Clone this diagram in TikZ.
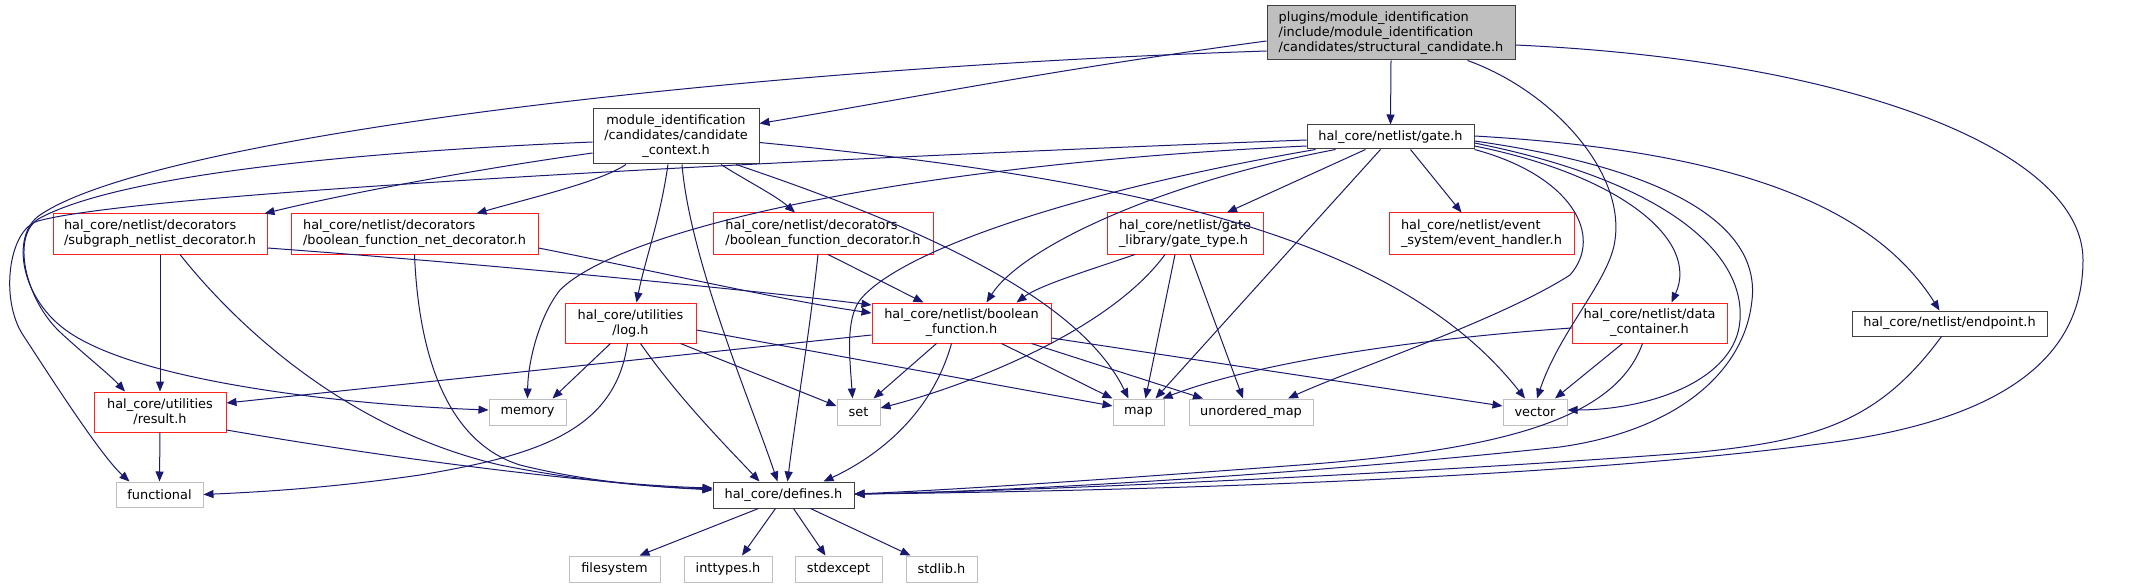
\documentclass[tikz,border=0pt]{standalone}
\usepackage{fontspec}
\setmainfont{DejaVu Sans}
\usetikzlibrary{arrows.meta}
\newcommand\dxfont{\fontsize{12.9}{15}\selectfont}
\definecolor{edgec}{HTML}{191970}
\definecolor{grayb}{HTML}{BFBFBF}
\definecolor{darkb}{HTML}{404040}
\definecolor{redb}{HTML}{FF2020}
\begin{document}
\begin{tikzpicture}[x=1pt,y=-1pt,
  box/.style={draw=darkb, line width=1pt, fill=white, inner sep=0pt, font=\dxfont, text=black, align=center},
  sysbox/.style={box, draw=grayb},
  trunc/.style={box, draw=redb},
  rootbox/.style={box, fill=grayb},
  dep/.style={draw=edgec, line width=1pt, -{Triangle[length=10pt,width=8pt]}}]
\useasboundingbox[fill=white] (0,0) rectangle (2139,588);
% nodes
\node[rootbox, align=left, minimum width=248, minimum height=54] (top) at (1391,33) {plugins/module\_identification\\/include/module\_identification\\/candidates/structural\_candidate.h};
\node[box, minimum width=166, minimum height=55] (cc) at (676,136.5) {module\_identification\\/candidates/candidate\\\_context.h};
\node[box, minimum width=167, minimum height=24] (gate) at (1390.5,137) {hal\_core/netlist/gate.h};
\node[trunc, align=left, minimum width=214, minimum height=40] (subg) at (160,234) {hal\_core/netlist/decorators\\/subgraph\_netlist\_decorator.h};
\node[trunc, align=left, minimum width=247, minimum height=40] (bnd) at (414.5,234) {hal\_core/netlist/decorators\\/boolean\_function\_net\_decorator.h};
\node[trunc, align=left, minimum width=220, minimum height=41] (bfd) at (823,233.5) {hal\_core/netlist/decorators\\/boolean\_function\_decorator.h};
\node[trunc, align=left, minimum width=156, minimum height=41] (gtype) at (1185,233.5) {hal\_core/netlist/gate\\\_library/gate\_type.h};
\node[trunc, align=left, minimum width=185, minimum height=41] (evh) at (1481.5,233.5) {hal\_core/netlist/event\\\_system/event\_handler.h};
\node[trunc, minimum width=131, minimum height=40] (log) at (630.5,323) {hal\_core/utilities\\/log.h};
\node[trunc, minimum width=179, minimum height=40] (bf) at (961.5,323) {hal\_core/netlist/boolean\\\_function.h};
\node[trunc, minimum width=155, minimum height=40] (dc) at (1649.5,323) {hal\_core/netlist/data\\\_container.h};
\node[box, minimum width=195, minimum height=25] (endp) at (1949.5,323.5) {hal\_core/netlist/endpoint.h};
\node[trunc, minimum width=132, minimum height=40] (result) at (160,412) {hal\_core/utilities\\/result.h};
\node[sysbox, minimum width=77, minimum height=26] (memory) at (527.5,412) {memory};
\node[sysbox, minimum width=43, minimum height=26] (set) at (858.5,412) {set};
\node[sysbox, minimum width=51, minimum height=26] (map) at (1138.5,412) {map};
\node[sysbox, minimum width=124, minimum height=26] (umap) at (1251,412) {unordered\_map};
\node[sysbox, minimum width=64, minimum height=26] (vector) at (1535,412) {vector};
\node[sysbox, minimum width=87, minimum height=25] (functional) at (159.5,494.5) {functional};
\node[box, minimum width=141, minimum height=26] (defines) at (783.5,495) {hal\_core/defines.h};
\node[sysbox, minimum width=91, minimum height=26] (filesystem) at (614.5,569) {filesystem};
\node[sysbox, minimum width=88, minimum height=26] (inttypes) at (728,569) {inttypes.h};
\node[sysbox, minimum width=87, minimum height=26] (stdexcept) at (838.5,569) {stdexcept};
\node[sysbox, minimum width=71, minimum height=26] (stdlib) at (941.5,569) {stdlib.h};
% edges from top
\draw[dep] ([yshift=-8]top.west) .. controls (1050,70) and (900,100) .. ([yshift=13]cc.east);
\draw[dep] (top.south) -- (gate.north);
\draw[dep] ([yshift=-18]top.west) .. controls (700,70) and (150,140) .. (40,215) .. controls (10,235) and (20,300) .. (70,333) .. controls (145,383) and (350,405) .. ([yshift=2]memory.west);
\draw[dep] ([xshift=-48]top.south east) .. controls (1550,90) and (1625,170) .. (1615,240) .. controls (1610,280) and (1560,330) .. ([xshift=2]vector.north);
\draw[dep] ([yshift=-12]top.east) .. controls (1850,60) and (2083,150) .. (2083,260) .. controls (2083,360) and (2000,420) .. (1827,443) .. controls (1527,483) and (1050,492) .. ([yshift=1]defines.east);
% edges from candidate_context
\draw[dep] ([yshift=-16.5]cc.west) .. controls (470,170) and (340,195) .. ([xshift=-3]subg.north east);
\draw[dep] ([xshift=-50]cc.south) .. controls (600,182) and (530,198) .. ([xshift=62]bnd.north);
\draw[dep] ([xshift=45]cc.south) .. controls (745,180) and (775,195) .. ([xshift=-28]bfd.north);
\draw[dep] ([xshift=-8]cc.south) .. controls (660,220) and (645,260) .. ([xshift=6]log.north);
\draw[dep] ([xshift=6]cc.south) .. controls (690,260) and (750,400) .. ([xshift=-6]defines.north);
\draw[dep] ([xshift=60]cc.south) .. controls (930,230) and (1080,300) .. ([xshift=-10]map.north);
\draw[dep] ([yshift=-6]cc.east) .. controls (1150,180) and (1400,240) .. ([xshift=-10]vector.north);
\draw[dep] ([yshift=-5.5]cc.west) .. controls (400,150) and (130,170) .. (40,218) .. controls (10,234) and (25,300) .. (61,333) .. controls (86,356) and (110,375) .. ([xshift=-35]result.north);
% edges from gate
\draw[dep] ([xshift=-25]gate.south) -- ([xshift=42]gtype.north);
\draw[dep] ([xshift=20]gate.south) -- ([xshift=-20]evh.north);
\draw[dep] ([yshift=-9]gate.east) .. controls (1620,175) and (1700,240) .. ([xshift=22]dc.north);
\draw[dep] ([yshift=1]gate.east) .. controls (1720,150) and (1870,200) .. ([xshift=-10]endp.north);
\draw[dep] ([yshift=-4]gate.east) .. controls (1680,170) and (1760,230) .. (1752,300) .. controls (1745,370) and (1680,430) .. (1560,447) .. controls (1300,475) and (1000,492) .. ([yshift=1]defines.east);
\draw[dep] ([yshift=-6]gate.east) .. controls (1660,180) and (1745,250) .. (1740,320) .. controls (1736,380) and (1650,410) .. ([yshift=2]vector.east);
\draw[dep] (gate.south east) .. controls (1570,175) and (1605,235) .. (1570,275) .. controls (1500,320) and (1350,370) .. ([xshift=37]umap.north);
\draw[dep] ([xshift=-10]gate.south) -- ([xshift=17]map.north);
\draw[dep] ([yshift=-9]gate.west) .. controls (900,165) and (620,230) .. (560,290) .. controls (540,315) and (528,360) .. (memory.north);
\draw[dep] ([yshift=-3]gate.west) .. controls (900,155) and (150,190) .. (38,221) .. controls (8,230) and (0,300) .. (23,335) .. controls (46,370) and (100,455) .. ([xshift=-30]functional.north);
\draw[dep] ([xshift=-55]gate.south) .. controls (1150,185) and (1020,250) .. ([xshift=25]bf.north);
\draw[dep] ([xshift=-75]gate.south) .. controls (1080,190) and (900,250) .. (860,300) .. controls (845,320) and (850,360) .. ([xshift=-6]set.north);
% subgraph decorator
\draw[dep] (subg.south) -- (result.north);
\draw[dep] ([xshift=20]subg.south) .. controls (240,330) and (350,430) .. (500,465) .. controls (600,485) and (680,488) .. ([yshift=6]defines.west);
\draw[dep] ([yshift=-14]subg.east) .. controls (500,265) and (750,290) .. ([yshift=18]bf.west);
% boolean function net decorator
\draw[dep] ([yshift=-14]bnd.east) .. controls (650,270) and (780,300) .. ([yshift=10]bf.west);
\draw[dep] (bnd.south) .. controls (418,340) and (440,440) .. (520,465) .. controls (600,485) and (680,488) .. ([yshift=5]defines.west);
% boolean function decorator
\draw[dep] ([xshift=5]bfd.south) -- ([xshift=-38]bf.north);
\draw[dep] ([xshift=-5]bfd.south) .. controls (810,330) and (795,420) .. ([xshift=4]defines.north);
% gate type
\draw[dep] ([xshift=-50]gtype.south) .. controls (1090,270) and (1040,285) .. ([xshift=55]bf.north);
\draw[dep] ([xshift=-20]gtype.south) .. controls (1110,330) and (970,385) .. ([yshift=4]set.east);
\draw[dep] ([xshift=-10]gtype.south) -- ([xshift=7]map.north);
\draw[dep] ([xshift=5]gtype.south) -- ([xshift=-8]umap.north);
% log
\draw[dep] ([xshift=-20]log.south) -- ([xshift=25]memory.north);
\draw[dep] ([xshift=-3]log.south) .. controls (615,430) and (540,455) .. (420,475) .. controls (330,488) and (260,492) .. (functional.east);
\draw[dep] ([xshift=10]log.south) .. controls (680,400) and (730,450) .. ([xshift=-24]defines.north);
\draw[dep] ([xshift=50]log.south) -- ([yshift=6]set.west);
\draw[dep] ([yshift=-7]log.east) -- ([yshift=6]map.west);
% boolean function
\draw[dep] ([yshift=-12]bf.west) -- ([yshift=9]result.east);
\draw[dep] ([xshift=-25]bf.south) -- ([xshift=15]set.north);
\draw[dep] ([xshift=-10]bf.south) .. controls (930,420) and (870,460) .. ([xshift=40]defines.north);
\draw[dep] ([xshift=40]bf.south) -- (map.north west);
\draw[dep] ([xshift=70]bf.south) -- ([xshift=-48]umap.north);
\draw[dep] ([yshift=-15]bf.east) -- ([yshift=6]vector.west);
% data container
\draw[dep] ([yshift=-5]dc.west) .. controls (1400,340) and (1250,365) .. ([xshift=24]map.north);
\draw[dep] ([xshift=-27]dc.south) -- ([xshift=20]vector.north);
\draw[dep] ([xshift=-7]dc.south) .. controls (1615,420) and (1500,450) .. (1300,465) .. controls (1100,480) and (950,490) .. ([yshift=1]defines.east);
% endpoint
\draw[dep] ([xshift=-8]endp.south) .. controls (1880,420) and (1820,440) .. (1700,452) .. controls (1400,475) and (1000,492) .. ([yshift=1]defines.east);
% result
\draw[dep] (result.south) -- (functional.north);
\draw[dep] ([yshift=-18]result.east) .. controls (400,460) and (600,485) .. ([yshift=7]defines.west);
% defines
\draw[dep] ([xshift=-25]defines.south) -- ([xshift=25]filesystem.north);
\draw[dep] ([xshift=-8]defines.south) -- ([xshift=14]inttypes.north);
\draw[dep] ([xshift=10]defines.south) -- ([xshift=-13]stdexcept.north);
\draw[dep] ([xshift=27]defines.south) -- ([xshift=-31]stdlib.north);
\end{tikzpicture}
\end{document}
